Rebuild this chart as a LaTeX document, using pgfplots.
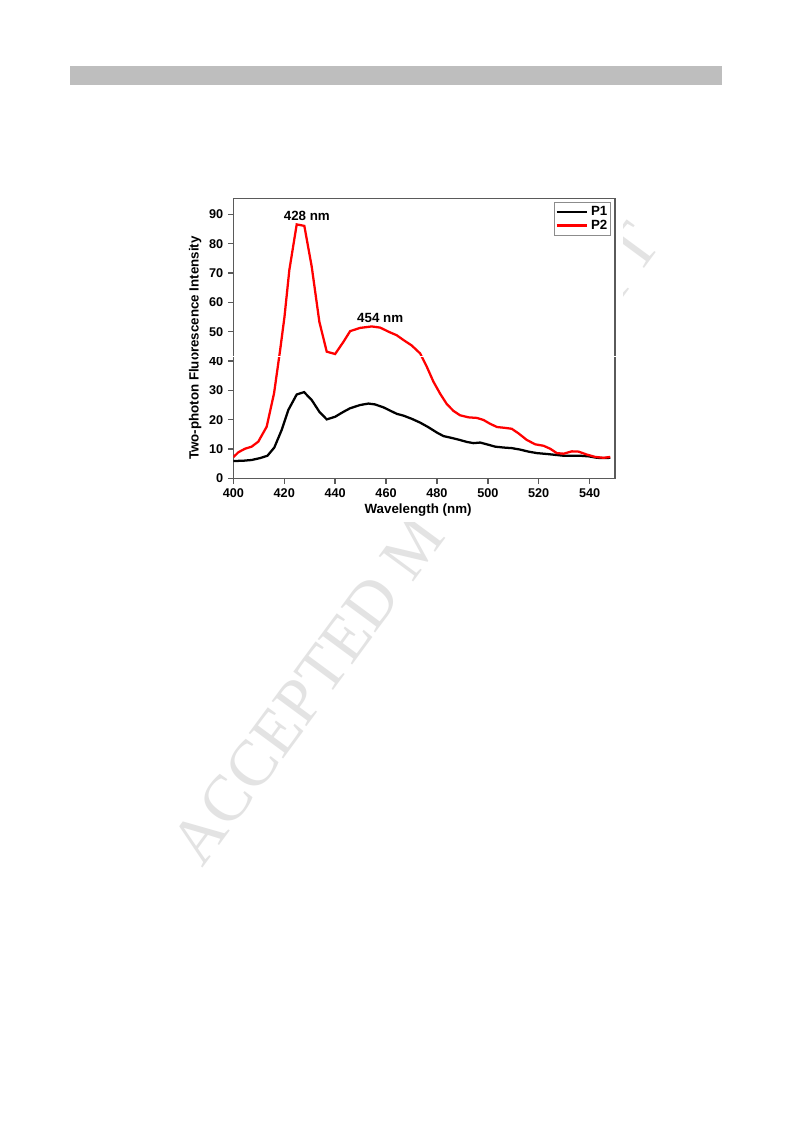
\documentclass[border=0pt]{standalone}
\usepackage{fontspec}
\setmainfont{Liberation Sans}
\newfontfamily\wmfont{Liberation Serif}
\usepackage{pgfplots}
\pgfplotsset{compat=1.18}

\definecolor{barGray}{HTML}{BEBEBE}
\definecolor{frameGray}{HTML}{5A5A5A}
\definecolor{pTwo}{HTML}{FF0000}

\begin{document}
\begin{tikzpicture}
  % page, 793x1123 px at 0.75pt/px
  \path[use as bounding box, fill=white] (0,0) rectangle (594.75pt,842.25pt);
  \fill[barGray] (52.5pt,778.5pt) rectangle (541.5pt,792.75pt);
  % watermark: only the letters that show round the figure
  \tikzset{wm/.style={rotate=53.6, text=black!11, inner sep=0pt,
        font=\wmfont\fontsize{49}{49}\selectfont}}
  \node[wm] at (311.5pt,434.4pt) {ACCEPTED M\phantom{ANUSCRIPT}};
  \node[wm] at (311.5pt,434.4pt) {\phantom{ACCEPTED MANUSCRI}PT};
  % the figure sits on a white patch
  \fill[white] (138.75pt,450.75pt) rectangle (467.5pt,697.5pt);

  \begin{axis}[
      at={(175pt,483.5pt)}, anchor=south west,
      scale only axis,
      width=286.3pt, height=210pt,
      xmin=400, xmax=550,
      ymin=0, ymax=95.5,
      xtick={400,420,...,540},
      ytick={0,10,...,90},
      tick pos=left,
      tick align=outside,
      major tick length=4pt,
      axis line style={draw=frameGray, line width=1.2pt},
      every tick/.style={draw=frameGray, line width=1.1pt},
      /pgf/number format/assume math mode=true,
      tick label style={font=\bfseries\fontsize{9.5}{10}\selectfont},
      xlabel={Wavelength (nm)},
      ylabel={Two-photon Fluorescence Intensity},
      label style={font=\bfseries\fontsize{10}{11}\selectfont},
      xlabel style={at={(axis description cs:0.484,-0.115)}, anchor=center},
      ylabel style={at={(axis description cs:-0.1,0.465)}, anchor=center},
      legend style={at={(1,1)}, xshift=-3pt, yshift=-2.5pt, anchor=north east,
                    draw=black!45, line width=0.6pt, inner xsep=0.5pt, inner ysep=1pt,
                    font=\bfseries\fontsize{10}{11}\selectfont,
                    row sep=-2pt},
      legend cell align=right,
      legend image code/.code={\draw[#1] (0pt,0pt) -- (23pt,0pt);},
    ]
    \addplot[black, line width=1.7pt] coordinates {
      (400,5.9) (403.9,6.0) (407.2,6.25) (410.5,6.9) (413.4,7.7) (416.1,10.5)
      (419,16.5) (421.6,23.3) (424.9,28.6) (427.8,29.4) (430.8,26.7) (433.8,22.7)
      (436.7,20.1) (440,21) (443.3,22.7) (445.9,23.9) (449.8,25) (453.1,25.5)
      (455.7,25.2) (459,24.2) (461.6,23.1) (464.2,22) (466.8,21.4) (470.1,20.3)
      (473.4,19) (476.7,17.4) (480,15.6) (482.6,14.4) (485.2,13.9) (488.5,13.2)
      (491.8,12.4) (494.4,12.0) (497,12.2) (499.6,11.6) (502.9,10.8) (506.2,10.5)
      (509.4,10.3) (512.7,9.8) (516,9.1) (519.3,8.6) (523.2,8.3) (526.5,8.0)
      (529.8,7.7) (533,7.7) (536.3,7.7) (539.6,7.5) (542.9,7.0) (545.5,6.9)
      (548.1,7.0)
    };
    \addlegendentry{P1}
    \addplot[pTwo, line width=1.7pt] coordinates {
      (400,7.2) (402,8.9) (404.6,10.1) (407.2,10.8) (409.8,12.5) (413.1,17.6)
      (416,29) (418.4,43.8) (420.1,55.1) (422,71) (424.9,86.6) (427.9,86.1)
      (430.8,72.2) (433.8,53.4) (436.7,43.2) (440,42.4) (443.3,46.6) (445.9,50.2)
      (449.8,51.3) (454.4,51.8) (457.7,51.4) (461,50) (464.2,48.8) (466.8,47.2)
      (470.1,45.3) (473.4,42.6) (476,38.1) (478.6,33) (481.3,28.8) (483.9,25.3)
      (486.5,23) (489.1,21.5) (492.4,20.8) (495.7,20.6) (498.3,19.9) (500.9,18.6)
      (503.6,17.5) (506.8,17.2) (509.4,16.9) (512.1,15.3) (515.3,13.1) (518.6,11.6)
      (521.9,11.1) (524.5,10.1) (527.1,8.6) (529.8,8.4) (533,9.2) (535.7,9.1)
      (538.9,8.1) (542.2,7.3) (545.5,7.0) (548.1,7.3)
    };
    \addlegendentry{P2}
    \node[font=\bfseries\fontsize{10}{11}\selectfont] at (axis cs:428.9,89.5) {428 nm};
    \node[font=\bfseries\fontsize{10}{11}\selectfont] at (axis cs:457.7,54.8) {454 nm};
  \end{axis}
  % thin white seam that crosses the figure in the reference
  \fill[white] (137pt,574.6pt) rectangle (469pt,575.2pt);
\end{tikzpicture}
\end{document}
